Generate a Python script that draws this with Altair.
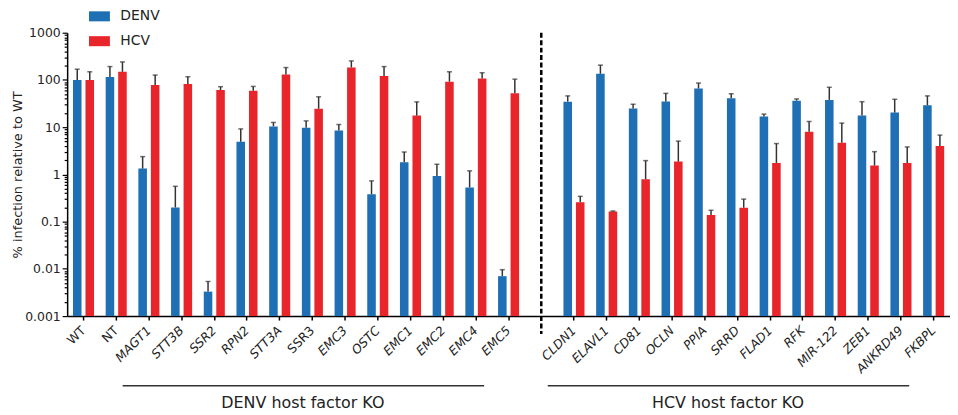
import altair as alt
import pandas as pd

# ---------------- data ----------------
denv_ko_genes = ["WT", "NT", "MAGT1", "STT3B", "SSR2", "RPN2", "STT3A", "SSR3",
                 "EMC3", "OSTC", "EMC1", "EMC2", "EMC4", "EMC5"]
hcv_ko_genes = ["CLDN1", "ELAVL1", "CD81", "OCLN", "PPIA", "SRRD", "FLAD1", "RFK",
                "MIR-122", "ZEB1", "ANKRD49", "FKBPL"]
gap_slot = " "

# % infection relative to WT (bar height) and top of error bar
denv_left = [100, 115, 1.33, 0.20, 0.0033, 4.9, 10.4, 9.7, 8.5, 0.38, 1.8, 0.93, 0.53, 0.0070]
denv_left_upper = [169, 192, 2.38, 0.56, 0.0054, 9.2, 12.6, 13.6, 11.4, 0.73, 2.98, 1.64, 1.19, 0.0096]
hcv_left = [100, 149, 78, 82, 61, 59, 131, 24.6, 184, 121, 17.6, 92, 108, 52]
hcv_left_upper = [149, 241, 127, 117, 72, 73, 183, 44, 253, 192, 34.3, 149, 142, 104]

denv_right = [34.7, 135, 24.8, 35, 66, 40.8, 16.8, 36.5, 37.8, 17.6, 20.4, 29]
denv_right_upper = [46, 206, 30.6, 52, 86, 51, 18.9, 39.6, 70, 34.7, 39, 46]
hcv_right = [0.256, 0.163, 0.79, 1.87, 0.138, 0.197, 1.75, 8.0, 4.7, 1.54, 1.75, 3.98]
hcv_right_upper = [0.343, 0.168, 1.96, 5.07, 0.174, 0.30, 4.5, 13.2, 12.2, 3.03, 3.82, 6.8]

viruses = ["DENV", "HCV"]
virus_colors = ["#1f6fb4", "#e8252b"]

upright_labels = ["WT", "NT", "SSR3"]

decades = [0.001, 0.01, 0.1, 1, 10, 100, 1000]
decade_labels = ["0.001", "0.01", "0.1", "1", "10", "100", "1000"]

group_start = ["NT", gap_slot]
group_end = ["EMC4", "ANKRD49"]
group_anchor = ["SSR3", "SRRD"]
group_label = ["DENV host factor KO", "HCV host factor KO"]

# ---------------- tables ----------------
order = denv_ko_genes + [gap_slot] + hcv_ko_genes
rows = []
for genes, dv, du, hv, hu in [
    (denv_ko_genes, denv_left, denv_left_upper, hcv_left, hcv_left_upper),
    (hcv_ko_genes, denv_right, denv_right_upper, hcv_right, hcv_right_upper),
]:
    for g, a, au, b, bu in zip(genes, dv, du, hv, hu):
        rows.append({"gene": g, "virus": "DENV", "value": a, "upper": au})
        rows.append({"gene": g, "virus": "HCV", "value": b, "upper": bu})
df = pd.DataFrame(rows)
df_gap = pd.DataFrame({"gene": [gap_slot]})
df_groups = pd.DataFrame({"start": group_start, "end": group_end,
                          "anchor": group_anchor, "label": group_label})

minor_ticks = [m * d for d in decades[:-1] for m in range(2, 10)]
tick_values = sorted(decades + minor_ticks)
label_expr = " : ".join(
    f"datum.value === {v} ? '{lab}'" for v, lab in zip(decades, decade_labels)
) + " : ''"
major_test = "indexof([" + ",".join(str(v) for v in decades) + "], datum.value) >= 0"

FONT = "DejaVu Sans"
INK = "#222222"

x_scale = alt.Scale(domain=order, paddingInner=0.356, paddingOuter=0.178)
xo_scale = alt.Scale(domain=viruses, paddingInner=0.317, paddingOuter=0)
y_scale = alt.Scale(type="log", domain=[0.001, 1000], nice=False)

x_axis = alt.Axis(
    title=None, labelAngle=315, labelAlign="right", labelBaseline="middle",
    labelFont=FONT, labelFontSize=12.5, labelColor=INK, labelPadding=8,
    labelFontStyle={"condition": {"test": "indexof(" + str(upright_labels) + ", datum.value) >= 0",
                                  "value": "normal"}, "value": "italic"},
    tickOpacity={"condition": {"test": f"datum.value == '{gap_slot}'", "value": 0}, "value": 1},
    tickSize=4, tickWidth=1.5, tickColor="black",
    domainColor="black", domainWidth=1.5,
)
y_axis = alt.Axis(
    title="% infection relative to WT", titleFont=FONT, titleFontSize=13,
    titleFontWeight="normal", titleColor=INK, titlePadding=0,
    values=tick_values, labelExpr=label_expr,
    labelFont=FONT, labelFontSize=12.5, labelColor=INK, labelPadding=2,
    tickSize={"condition": {"test": major_test, "value": 5}, "value": 3},
    tickWidth=1.2, tickColor="black", domainColor="black", domainWidth=1.5,
    grid=False,
)

bars = alt.Chart(df).mark_bar().encode(
    x=alt.X("gene:N", scale=x_scale, axis=x_axis, sort=order),
    xOffset=alt.XOffset("virus:N", scale=xo_scale),
    y=alt.Y("value:Q", scale=y_scale, axis=y_axis),
    y2=alt.datum(0.001),
    color=alt.Color("virus:N", scale=alt.Scale(domain=viruses, range=virus_colors),
                    legend=alt.Legend(
                        title=None, orient="none", legendX=22, legendY=-27,
                        symbolType="M-1,-0.48H1V0.48H-1Z", symbolSize=441,
                        symbolStrokeWidth=0, rowPadding=7, labelOffset=10.5,
                        labelFont=FONT, labelFontSize=14, labelColor=INK, padding=0)),
)

err = alt.Chart(df).mark_rule(color="#333333", strokeWidth=1.5).encode(
    x=alt.X("gene:N", scale=x_scale, axis=x_axis, sort=order),
    xOffset=alt.XOffset("virus:N", scale=xo_scale),
    y=alt.Y("value:Q", scale=y_scale, axis=y_axis),
    y2="upper:Q",
)

caps = alt.Chart(df).mark_tick(color="#333333", thickness=1.5, size=5,
                               orient="horizontal").encode(
    x=alt.X("gene:N", scale=x_scale, axis=x_axis, sort=order),
    xOffset=alt.XOffset("virus:N", scale=xo_scale),
    y=alt.Y("upper:Q", scale=y_scale, axis=y_axis),
)

divider = alt.Chart(df_gap).mark_rule(color="black", strokeWidth=2.5,
                                      strokeDash=[5, 2.5]).encode(
    x=alt.X("gene:N", scale=x_scale, axis=x_axis, sort=order),
    y=alt.Y(datum=1000, scale=y_scale, axis=y_axis),
    y2=alt.value(303),
)

group_lines = alt.Chart(df_groups).mark_rule(color="#333333", strokeWidth=1.5,
                                             xOffset=6.5, x2Offset=8.3).encode(
    x=alt.X("start:N", scale=x_scale, axis=x_axis, bandPosition=0.5),
    x2=alt.X2("end", bandPosition=0.5),
    y=alt.value(355),
)

group_text = alt.Chart(df_groups).mark_text(font=FONT, fontSize=16, color=INK,
                                            align="center", baseline="alphabetic",
                                            dx=1).encode(
    x=alt.X("anchor:N", scale=x_scale, axis=x_axis, bandPosition=0),
    y=alt.value(377),
    text="label:N",
)

chart = alt.layer(bars, err, caps, divider, group_lines, group_text).properties(
    width=888, height=285,
    autosize=alt.AutoSizeParams(type="none"),
    padding={"left": 59.5, "top": 23.7, "right": 0, "bottom": 98},
).configure_view(stroke=None)

chart.save("out.html", embed_options={"renderer": "svg", "actions": False})
